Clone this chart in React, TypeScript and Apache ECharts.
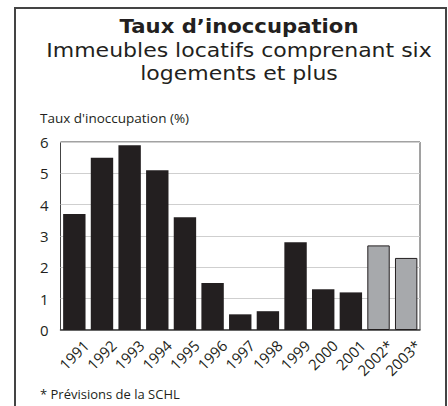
import React, { useEffect, useRef } from "react";
import * as echarts from "echarts";

const years = ["1991", "1992", "1993", "1994", "1995", "1996", "1997", "1998", "1999", "2000", "2001", "2002*", "2003*"];
const actualValues = [3.7, 5.5, 5.9, 5.1, 3.6, 1.5, 0.5, 0.6, 2.8, 1.3, 1.2, null, null];
const forecastValues = [null, null, null, null, null, null, null, null, null, null, null, 2.7, 2.3];
const yTicks = [0, 1, 2, 3, 4, 5, 6];

const FONT = "'Open Sans', sans-serif";
const TFONT = "'DejaVu Sans', sans-serif";

export default function App() {
  const ref = useRef<HTMLDivElement>(null);
  useEffect(() => {
    if (!ref.current) return;
    const chart = echarts.init(ref.current, undefined, { renderer: "svg" });
    const titleLine = (text: string, y: number, bold: boolean, sx: number) => ({
      type: "text",
      x: 239,
      y,
      scaleX: sx,
      style: {
        text,
        font: `${bold ? "bold " : ""}20px ${TFONT}`,
        fill: "#231f20",
        align: "center",
        verticalAlign: "middle",
      },
    });
    chart.setOption({
      animation: false,
      backgroundColor: "#ffffff",
      graphic: [
        {
          type: "rect",
          shape: { x: 15, y: 8, width: 431, height: 420 },
          style: { fill: "none", stroke: "#444", lineWidth: 2 },
          z: 0,
        },
        titleLine("Taux d’inoccupation", 26, true, 1.06),
        titleLine("Immeubles locatifs comprenant six", 49.5, false, 1.1),
        titleLine("logements et plus", 73, false, 1.1),
        {
          type: "text",
          x: 40,
          y: 118,
          style: { text: "Taux d'inoccupation (%)", font: `13.5px ${FONT}`, fill: "#231f20", align: "left", verticalAlign: "middle" },
        },
        {
          type: "text",
          x: 40,
          y: 394,
          style: { text: "* Prévisions de la SCHL", font: `13px ${FONT}`, fill: "#231f20", align: "left", verticalAlign: "middle" },
        },
      ],
      grid: {
        left: 60.5,
        right: 28,
        top: 142,
        bottom: 76,
        show: true,
        borderColor: "#444",
        borderWidth: 1,
        backgroundColor: "transparent",
      },
      xAxis: {
        type: "category",
        data: years,
        axisTick: { show: false },
        axisLine: { show: true, lineStyle: { color: "#444", width: 1.5 } },
        axisLabel: {
          rotate: 45,
          color: "#231f20",
          fontFamily: FONT,
          fontSize: 15,
          margin: 1,
          verticalAlign: "top",
          padding: [9, 0, 0, 0],
          interval: 0,
        },
      },
      yAxis: {
        type: "value",
        min: 0,
        max: 6,
        interval: 1,
        axisLine: { show: false },
        axisTick: { show: false },
        splitLine: { show: true, lineStyle: { color: "#cfcfcf", width: 1 } },
        axisLabel: {
          color: "#231f20",
          fontFamily: FONT,
          fontSize: 15,
          margin: 12,
          formatter: (v: number) => (yTicks.includes(v) ? String(v) : ""),
        },
      },
      series: [
        {
          type: "bar",
          data: actualValues,
          stack: "a",
          barWidth: "81%",
          itemStyle: { color: "#231f20" },
        },
        {
          type: "bar",
          data: forecastValues,
          stack: "a",
          barWidth: "81%",
          itemStyle: { color: "#a7a9ac", borderColor: "#231f20", borderWidth: 1 },
        },
      ],
    });
    return () => chart.dispose();
  }, []);
  return <div ref={ref} style={{ width: 448, height: 406, position: "absolute", left: 0, top: 0 }} />;
}
